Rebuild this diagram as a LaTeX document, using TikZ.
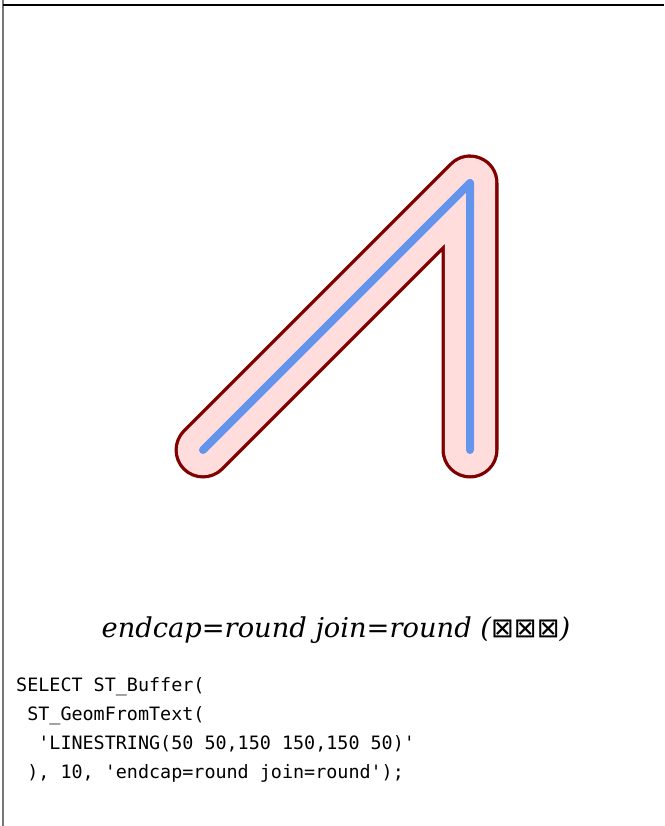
\documentclass[tikz,border=0pt]{standalone}
\usepackage{fontspec}
\setmainfont{DejaVu Serif}
\newfontfamily\symfont{DejaVu Sans}
\setmonofont{DejaVu Sans Mono}
\definecolor{bufline}{HTML}{800000}
\definecolor{buffill}{HTML}{FFDDDD}
\definecolor{geomline}{HTML}{6495ED}
\definecolor{framegray}{HTML}{777777}
\tikzset{
  bufouter/.style={draw=bufline, line width=57pt, line cap=round, line join=round},
  bufinner/.style={draw=buffill, line width=50.4pt, line cap=round, line join=round},
  geom/.style={draw=geomline, line width=8pt, line cap=round, line join=round},
  codeline/.style={anchor=base west, inner sep=0pt, font=\fontsize{18.4}{22}\selectfont\ttfamily},
  caption/.style={anchor=base, inner sep=0pt, font=\fontsize{27.3}{32}\selectfont\itshape}
}
\begin{document}
\begin{tikzpicture}[x=1pt,y=-1pt]
\useasboundingbox (0,0) rectangle (664,826);
\fill[white] (0,0) rectangle (664,826);
\draw[framegray, line width=2pt] (2.5,0) -- (2.5,826);
\draw[black, line width=1.2pt] (2.5,5) -- (664,5);
\coordinate (p1) at (203,450);
\coordinate (p2) at (470,183);
\coordinate (p3) at (470,450);
\draw[bufouter] (p1) -- (p2) -- (p3);
\draw[bufinner] (p1) -- (p2) -- (p3);
\draw[geom] (p1) -- (p2) -- (p3);
\node[caption] (cap) at (336,637) {endcap=round join=round ({\symfont\upshape ⊠⊠⊠})};
\node[codeline] (c1) at (16,691) {SELECT ST\_Buffer(};
\node[codeline] (c2) at (16,720) {\hphantom{0}ST\_GeomFromText(};
\node[codeline] (c3) at (16,749) {\hphantom{00}'LINESTRING(50 50,150 150,150 50)'};
\node[codeline] (c4) at (16,778) {\hphantom{0}), 10, 'endcap=round join=round');};
\end{tikzpicture}
\end{document}
